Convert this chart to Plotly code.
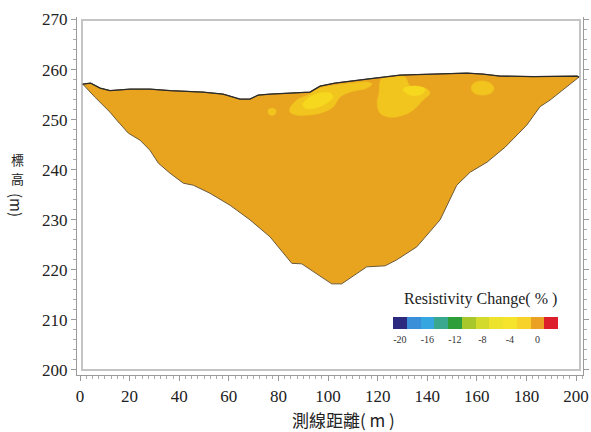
import plotly.graph_objects as go

# ---- section outline (distance m, elevation m) ----
top_x = [1.1, 4.3, 8.1, 12.1, 20.2, 28.2, 36.3, 49.6, 57.7, 64.5, 68.5, 71.8, 76.6, 92.7, 96.8, 102.8, 115.7, 129.0, 142.3, 156.0, 162.5, 169.4, 182.7, 200.4, 201.2]
top_y = [257.1, 257.3, 256.3, 255.8, 256.1, 256.1, 255.8, 255.5, 255.1, 254.1, 254.1, 254.9, 255.1, 255.5, 256.7, 257.3, 258.1, 258.9, 259.1, 259.3, 259.1, 258.7, 258.6, 258.7, 258.5]
bot_x = [1.1, 6.0, 12.1, 14.8, 19.5, 24.2, 28.2, 31.6, 36.3, 41.7, 45.7, 52.4, 60.5, 68.5, 76.6, 85.4, 89.4, 95.4, 101.5, 105.5, 111.6, 115.6, 123.0, 127.7, 135.8, 145.2, 151.9, 157.3, 164.1, 171.4, 180.1, 185.5, 189.5, 195.6, 201.2]
bot_y = [257.1, 254.5, 251.5, 249.9, 247.3, 245.9, 243.9, 241.3, 239.3, 237.3, 236.9, 235.3, 232.9, 230.0, 226.6, 221.3, 221.2, 219.3, 217.2, 217.2, 219.3, 220.6, 220.8, 222.0, 224.6, 230.0, 236.9, 239.5, 241.5, 244.5, 248.9, 252.6, 253.9, 256.3, 258.5]

# ---- resistivity-change patches ----
patchA_x = [75.8, 77.4, 79.0, 78.6, 76.6]
patchA_y = [251.9, 252.3, 251.9, 251.1, 250.9]
patchB_x = [84.7, 87.5, 92.7, 96.8, 103.6, 110.1, 115.7, 117.7, 115.7, 108.9, 104.8, 102.0, 96.8, 91.5, 87.5, 84.7]
patchB_y = [252.3, 253.9, 255.1, 256.3, 256.9, 257.3, 257.5, 257.1, 256.3, 255.5, 254.5, 252.5, 251.3, 250.9, 250.9, 251.5]
patchB2_x = [89.9, 92.7, 96.8, 100.8, 102.0, 98.8, 94.8, 90.7]
patchB2_y = [253.1, 254.5, 255.3, 255.3, 254.5, 253.1, 252.3, 252.3]
patchC_x = [121.4, 125.8, 131.0, 133.1, 139.1, 141.1, 138.3, 134.3, 130.2, 125.0, 121.0, 119.8, 120.6]
patchC_y = [258.0, 258.4, 258.5, 256.7, 256.3, 255.3, 253.9, 251.9, 250.9, 250.5, 251.3, 253.3, 255.3]
patchC2_x = [130.2, 135.1, 139.1, 137.9, 133.1]
patchC2_y = [256.1, 256.7, 256.1, 255.1, 254.9]
patchD_x = [157.7, 158.9, 162.1, 165.3, 166.9, 165.7, 162.1, 158.9]
patchD_y = [256.3, 257.3, 257.7, 257.3, 256.3, 255.3, 254.9, 255.3]

# ---- legend (colour classes) ----
legend_values = [-20, -18, -16, -14, -12, -10, -8, -6, -4, -2, 0, 2]
legend_colors = ["#2b2a7f", "#3a8fd8", "#36a6e0", "#3aa88e", "#2e9e3a", "#a8c72a",
                 "#d3da2c", "#eee32c", "#f6e42c", "#f6d22a", "#eba123", "#dc1f2b"]
legend_ticks = [-20, -16, -12, -8, -4, 0]
legend_ticktext = ["-20", "-16", "-12", "-8", "-4", "0"]

ORANGE = "#e9a41f"
YEL1 = "#f1c51e"
YEL2 = "#f6d81e"

fig = go.Figure()

poly_x = top_x + bot_x[::-1]
poly_y = top_y + bot_y[::-1]
fig.add_trace(go.Scatter(x=poly_x, y=poly_y, mode="lines", fill="toself",
                         fillcolor=ORANGE, line=dict(color="#6b5a3a", width=1),
                         hoverinfo="skip", showlegend=False))
for px_, py_, col in [(patchA_x, patchA_y, YEL1), (patchB_x, patchB_y, YEL1),
                      (patchB2_x, patchB2_y, YEL2), (patchC_x, patchC_y, YEL1),
                      (patchC2_x, patchC2_y, YEL2), (patchD_x, patchD_y, YEL1)]:
    fig.add_trace(go.Scatter(x=px_ + [px_[0]], y=py_ + [py_[0]], mode="lines",
                             fill="toself", fillcolor=col, line=dict(color=col, width=0.5, shape="spline"),
                             hoverinfo="skip", showlegend=False))
fig.add_trace(go.Scatter(x=top_x, y=top_y, mode="lines",
                         line=dict(color="#2a2a2a", width=1.3),
                         hoverinfo="skip", showlegend=False))

# legend colour bar as a small heatmap
n = len(legend_colors)
cs = []
for i, c in enumerate(legend_colors):
    cs.append([i / n, c])
    cs.append([(i + 1) / n, c])
fig.add_trace(go.Heatmap(z=[legend_values], x=legend_values, y=[0],
                         zmin=-21, zmax=3, colorscale=cs, showscale=False,
                         hoverinfo="skip", xaxis="x2", yaxis="y2"))

# frame
fig.add_shape(type="rect", xref="x", yref="y", x0=0.8, x1=201.6, y0=200.0, y1=269.9,
              line=dict(color="#c4c4c4", width=2), layer="below")

W, H = 591, 432
L, R, T, B = 77, 8, 17, 57
pw, ph = W - L - R, H - T - B

def px2paper(x, y):
    return (x - L) / pw, (H - B - y) / ph

tickfont = dict(family="Liberation Serif", size=17, color="#222")
fig.update_layout(
    template="none",
    width=W, height=H, margin=dict(l=L, r=R, t=T, b=B, autoexpand=False),
    paper_bgcolor="white", plot_bgcolor="white",
    xaxis=dict(range=[-1.21, 202.8], tickvals=[0, 20, 40, 60, 80, 100, 120, 140, 160, 180, 200],
               automargin=False,
               showgrid=False, zeroline=False, showline=True, linecolor="#9a9a9a", linewidth=1.2,
               ticks="outside", ticklen=5, tickcolor="#9a9a9a", tickfont=tickfont,
               minor=dict(dtick=2.5, ticks="outside", ticklen=3, tickcolor="#aaaaaa"),
               domain=[0, 1]),
    yaxis=dict(range=[199.0, 270.5], tickvals=[200, 210, 220, 230, 240, 250, 260, 270],
               automargin=False,
               showgrid=False, zeroline=False, showline=True, linecolor="#9a9a9a", linewidth=1.2,
               mirror="allticks", ticks="outside", ticklen=5, tickcolor="#9a9a9a", tickfont=tickfont,
               minor=dict(dtick=2, ticks="outside", ticklen=3, tickcolor="#aaaaaa")),
    xaxis2=dict(domain=[px2paper(393, 0)[0], px2paper(558, 0)[0]], anchor="y2", automargin=False,
                range=[-21, 3], tickvals=legend_ticks, ticktext=legend_ticktext,
                showgrid=False, zeroline=False,
                showline=False, ticks="", ticklabelstandoff=3,
                tickfont=dict(family="Liberation Serif", size=10, color="#333")),
    yaxis2=dict(domain=[px2paper(0, 329)[1], px2paper(0, 317)[1]], anchor="x2", automargin=False,
                range=[-0.5, 0.5], visible=False),
)

ann = []
ax, ay = px2paper(343, 419)
ann.append(dict(x=ax, y=ay, xref="paper", yref="paper", text="測線距離( m )", showarrow=False,
                font=dict(family="Noto Sans CJK TC", size=17, color="#222"), xanchor="center", yanchor="middle"))
for ch, yy in [("標", 159), ("高", 178)]:
    bx, by = px2paper(17, yy)
    ann.append(dict(x=bx, y=by, xref="paper", yref="paper", text=ch, showarrow=False,
                    font=dict(family="Noto Sans CJK TC", size=13, color="#222"), xanchor="center",
                    yanchor="middle", borderpad=0))
bx, by = px2paper(17, 205)
ann.append(dict(x=bx, y=by, xref="paper", yref="paper", text="(m)", textangle=90, showarrow=False,
                font=dict(family="Noto Sans CJK TC", size=15, color="#222"), xanchor="center",
                yanchor="middle", borderpad=0))
lx, ly = px2paper(480, 299)
ann.append(dict(x=lx, y=ly, xref="paper", yref="paper", text="Resistivity Change( % )", showarrow=False,
                font=dict(family="Liberation Serif", size=16, color="#222"), xanchor="center", yanchor="middle"))
fig.update_layout(annotations=ann)

fig.write_html("out.html")
